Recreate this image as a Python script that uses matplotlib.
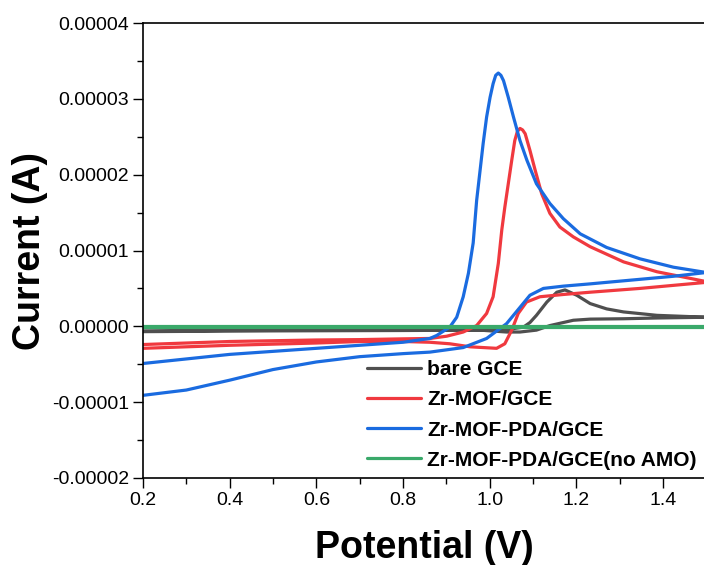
import numpy as np
import matplotlib
matplotlib.use("Agg")
import matplotlib.pyplot as plt
from matplotlib.ticker import MultipleLocator, FuncFormatter

plt.rcParams['font.family'] = ['Liberation Sans', 'DejaVu Sans']

# bare GCE (uA)
bare_fwd_E = [0.2, 0.5, 0.8, 1.0, 1.055, 1.078, 1.093, 1.108, 1.132, 1.155, 1.174, 1.201, 1.232,
              1.27, 1.309, 1.386, 1.5]
bare_fwd_I = [-0.6, -0.5, -0.45, -0.45, -0.3, -0.1, 0.5, 1.45, 3.2, 4.5, 4.8, 4.1, 3.0,
              2.3, 1.9, 1.45, 1.2]
bare_rev_E = [1.5, 1.386, 1.309, 1.232, 1.193, 1.139, 1.108, 1.070, 1.039, 0.978, 0.8, 0.5, 0.2]
bare_rev_I = [1.2, 1.1, 1.0, 0.95, 0.8, 0.1, -0.5, -0.75, -0.75, -0.5, -0.55, -0.6, -0.7]

# Zr-MOF/GCE
mof_fwd_E = [0.2, 0.3, 0.4, 0.5, 0.6, 0.7, 0.8, 0.862, 0.901, 0.939, 0.970, 0.993, 1.008, 1.020,
             1.028, 1.035, 1.043, 1.051, 1.058, 1.064, 1.070, 1.076, 1.082, 1.093, 1.105, 1.120,
             1.139, 1.162, 1.193, 1.232, 1.309, 1.386, 1.5]
mof_fwd_I = [-2.4, -2.2, -2.0, -1.9, -1.8, -1.75, -1.65, -1.6, -1.3, -0.75, 0.1, 1.7, 3.9, 8.3,
             12.7, 15.7, 18.8, 21.9, 24.5, 25.7, 26.1, 25.9, 25.4, 23.2, 20.6, 17.5,
             14.9, 13.1, 11.8, 10.5, 8.5, 7.2, 5.9]
mof_rev_E = [1.5, 1.347, 1.232, 1.170, 1.116, 1.085, 1.066, 1.051, 1.035, 1.016, 0.955, 0.908,
             0.862, 0.8, 0.7, 0.6, 0.5, 0.4, 0.3, 0.2]
mof_rev_I = [5.8, 5.0, 4.5, 4.2, 3.9, 3.2, 1.7, -0.5, -2.3, -2.9, -2.7, -2.3,
             -2.1, -2.0, -2.0, -2.2, -2.35, -2.5, -2.7, -2.9]

# Zr-MOF-PDA/GCE
pda_fwd_E = [0.2, 0.3, 0.4, 0.5, 0.6, 0.7, 0.8, 0.862, 0.878, 0.908, 0.924, 0.939, 0.951, 0.962,
             0.970, 0.978, 0.985, 0.993, 1.001, 1.008, 1.014, 1.020, 1.026, 1.032, 1.043, 1.055,
             1.070, 1.086, 1.108, 1.139, 1.170, 1.209, 1.27, 1.347, 1.424, 1.5]
pda_fwd_I = [-4.9, -4.3, -3.7, -3.3, -2.9, -2.5, -2.1, -1.6, -1.2, -0.1, 1.2, 3.9, 7.0, 11.0,
             16.6, 20.6, 24.1, 27.6, 30.2, 32.0, 33.1, 33.4, 33.1, 32.4, 30.2, 27.6,
             24.5, 21.9, 18.8, 16.2, 14.2, 12.2, 10.4, 8.9, 7.8, 7.1]
pda_rev_E = [1.5, 1.424, 1.347, 1.27, 1.232, 1.170, 1.124, 1.093, 1.070, 1.039, 0.993, 0.939,
             0.862, 0.8, 0.7, 0.6, 0.5, 0.4, 0.3, 0.2]
pda_rev_I = [7.1, 6.6, 6.2, 5.8, 5.6, 5.3, 5.0, 4.1, 2.5, 0.35, -1.6, -2.8,
             -3.4, -3.6, -4.0, -4.7, -5.7, -7.1, -8.4, -9.1]

# Zr-MOF-PDA/GCE (no AMO)
blank_E = [0.2, 1.5, 1.5, 0.2]
blank_I = [0.0, 0.0, -0.05, -0.05]

labels = ['bare GCE', 'Zr-MOF/GCE', 'Zr-MOF-PDA/GCE', 'Zr-MOF-PDA/GCE(no AMO)']
colors = ['#4f4f4f', '#f0393f', '#1a6be0', '#3aa96a']

series = [
    (bare_fwd_E + bare_rev_E, bare_fwd_I + bare_rev_I),
    (mof_fwd_E + mof_rev_E, mof_fwd_I + mof_rev_I),
    (pda_fwd_E + pda_rev_E, pda_fwd_I + pda_rev_I),
    (blank_E, blank_I),
]

fig = plt.figure(figsize=(7.04, 5.65), dpi=100)
ax = fig.add_axes([143 / 704, 1 - 478 / 565, 563.3 / 704, 455 / 565])

for (E, I), lab, c in zip(series, labels, colors):
    ax.plot(E, np.array(I) * 1e-6, color=c, lw=2.3, label=lab,
            solid_joinstyle='round', solid_capstyle='round')

ax.set_xlim(0.2, 1.5)
ax.set_ylim(-0.00002, 0.00004)
ax.xaxis.set_major_locator(MultipleLocator(0.2))
ax.xaxis.set_minor_locator(MultipleLocator(0.1))
ax.yaxis.set_major_locator(MultipleLocator(0.00001))
ax.yaxis.set_minor_locator(MultipleLocator(0.000005))
ax.xaxis.set_major_formatter(FuncFormatter(lambda v, p: '%.1f' % v))
ax.yaxis.set_major_formatter(FuncFormatter(lambda v, p: '%.5f' % v))
ax.tick_params(which='major', direction='out', length=7, width=1, labelsize=14, pad=3)
ax.tick_params(which='minor', direction='out', length=4, width=1)
for s in ax.spines.values():
    s.set_linewidth(1.2)

ax.set_xlabel('Potential (V)', fontsize=27, fontweight='bold', labelpad=15)
ax.set_ylabel('Current (A)', fontsize=27, fontweight='bold', labelpad=3)

ax.legend(loc='upper left', bbox_to_anchor=(367 / 704, 1 - 360 / 565),
          bbox_transform=fig.transFigure, frameon=False, borderpad=0, borderaxespad=0,
          prop={'weight': 'bold', 'size': 15}, handlelength=2.6, handletextpad=0.3,
          labelspacing=0.54)

fig.savefig('out.png', dpi=100)
